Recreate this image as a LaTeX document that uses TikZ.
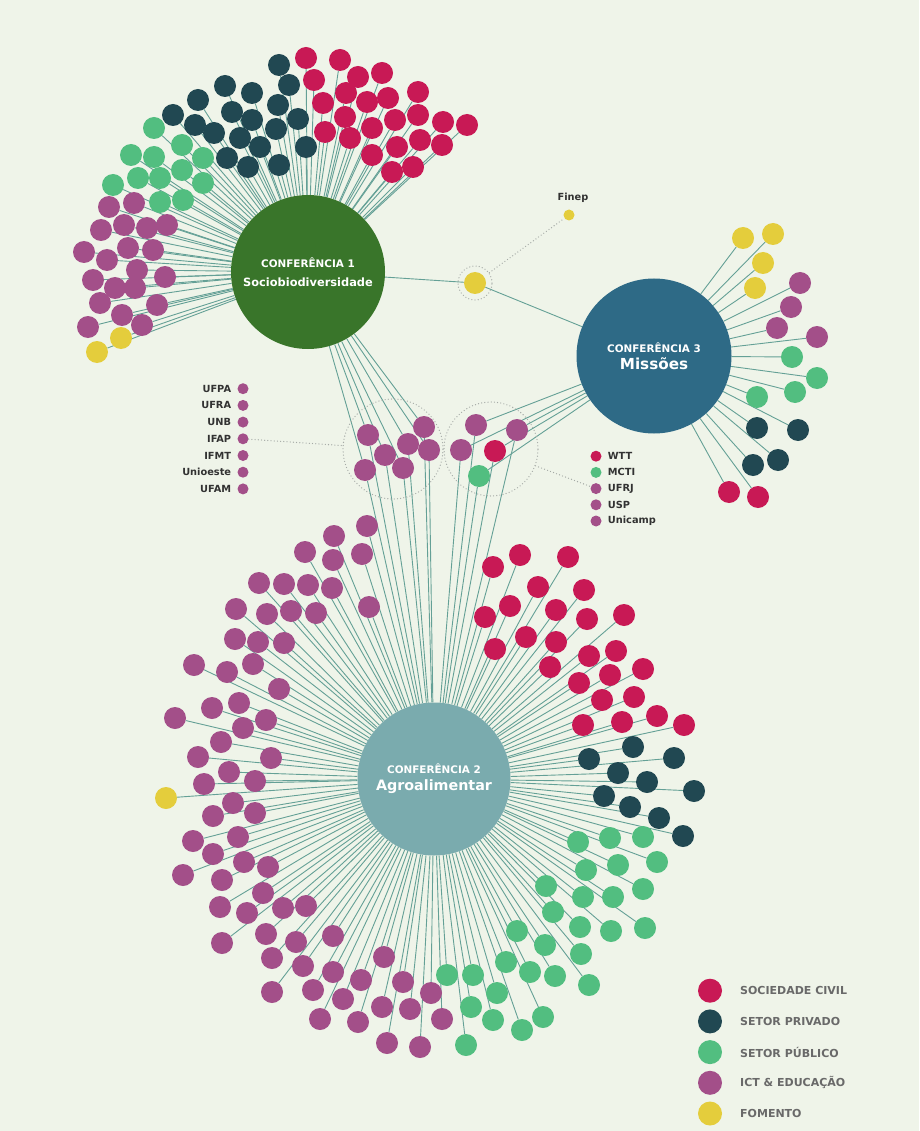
\documentclass[tikz,border=0pt]{standalone}
\usepackage{fontspec}
\setmainfont{DejaVu Sans}
\usetikzlibrary{backgrounds,positioning}
\definecolor{bgcol}{RGB}{239,244,233}
\definecolor{socc}{RGB}{200,25,85}
\definecolor{privc}{RGB}{33,72,82}
\definecolor{pubc}{RGB}{82,190,128}
\definecolor{ictc}{RGB}{163,79,137}
\definecolor{fomc}{RGB}{228,205,60}
\definecolor{hubAc}{RGB}{57,117,42}
\definecolor{hubBc}{RGB}{122,171,174}
\definecolor{hubCc}{RGB}{46,106,134}
\definecolor{linec}{RGB}{100,160,150}
\definecolor{ringc}{RGB}{165,170,165}
\definecolor{txtc}{RGB}{50,50,50}
\definecolor{legc}{RGB}{105,105,105}

\begin{document}
\begin{tikzpicture}[
x=1pt, y=-1pt,
dot/.style={circle,inner sep=0pt,minimum size=22pt},
soc/.style={dot,fill=socc},
priv/.style={dot,fill=privc},
pub/.style={dot,fill=pubc},
ict/.style={dot,fill=ictc},
fom/.style={dot,fill=fomc},
mini/.style={circle,inner sep=0pt,minimum size=11pt},
link/.style={draw=linec,line width=0.9pt},
hub/.style={circle,inner sep=0pt,text=white,font=\bfseries,align=center},
ring/.style={circle,draw=ringc,line width=1.3pt,dash pattern=on 0pt off 3.2pt,line cap=round,inner sep=0pt},
dotline/.style={draw=ringc,line width=1.3pt,dash pattern=on 0pt off 3.2pt,line cap=round},
small/.style={font=\bfseries\fontsize{9.8}{12}\selectfont,text=txtc,inner sep=0pt},
legend/.style={font=\bfseries\fontsize{11}{13}\selectfont,text=legc,inner sep=0pt,anchor=west}
]
    % page
    \useasboundingbox (0,0) rectangle (919,1131);
    \begin{scope}[on background layer]
      \fill[bgcol] (0,0) rectangle (919,1131);
    \end{scope}

    % hubs
    \node[hub,fill=hubAc,minimum size=154pt] (hubA) at (308,272)
      {{\fontsize{10.4}{11}\selectfont CONFERÊNCIA 1}\\[7pt]{\fontsize{11.4}{13}\selectfont Sociobiodiversidade}};
    \node[hub,fill=hubBc,minimum size=153pt] (hubB) at (434,779)
      {{\fontsize{10.4}{11}\selectfont CONFERÊNCIA 2}\\[5pt]{\fontsize{14.3}{16}\selectfont Agroalimentar}};
    \node[hub,fill=hubCc,minimum size=155pt] (hubC) at (654,356)
      {{\fontsize{10.4}{11}\selectfont CONFERÊNCIA 3}\\[5pt]{\fontsize{15.2}{17}\selectfont Missões}};

    % fomento hub + Finep
    \node[fom] (fhub) at (475,283) {};
    \node[ring,minimum size=34pt] (fring) at (475,283) {};
    \node[mini,minimum size=11pt,fill=fomc] (finep) at (569,215) {};
    \node[small,above=7pt of finep,xshift=4pt] (finepl) {Finep};
    \begin{scope}[on background layer]
      \draw[link] (hubA) -- (fhub) -- (hubC);
    \end{scope}
    \draw[dotline] (fring) -- (finep);

    % Conferencia 1
    \foreach \px/\py [count=\i] in {306/58,340/60,314/80,358/77,382/73,346/93,323/103,367/102,388/98,418/92,
      345/117,395/120,418/115,443/122,467/125,325/132,372/128,350/138,397/147,420/140,442/145,372/155,392/172,413/167}
      {\node[soc] (as\i) at (\px,\py) {};
       \begin{scope}[on background layer]\draw[link] (as\i) -- (hubA);\end{scope}}
    \foreach \px/\py [count=\i] in {279/65,289/85,225/86,252/93,198/100,278/105,232/112,173/115,252/120,298/119,
      195/125,214/133,240/138,276/129,260/147,306/147,227/158,248/167,279/165}
      {\node[priv] (ap\i) at (\px,\py) {};
       \begin{scope}[on background layer]\draw[link] (ap\i) -- (hubA);\end{scope}}
    \foreach \px/\py [count=\i] in {154/128,182/145,131/155,154/157,203/158,182/170,113/185,138/178,160/178,203/183,160/202,183/200}
      {\node[pub] (au\i) at (\px,\py) {};
       \begin{scope}[on background layer]\draw[link] (au\i) -- (hubA);\end{scope}}
    \foreach \px/\py [count=\i] in {109/207,134/203,101/230,124/225,147/228,167/225,84/252,128/248,153/250,107/260,
      137/270,165/277,93/280,115/288,135/288,100/303,157/305,122/315,142/325,88/327}
      {\node[ict] (ai\i) at (\px,\py) {};
       \begin{scope}[on background layer]\draw[link] (ai\i) -- (hubA);\end{scope}}
    \foreach \px/\py [count=\i] in {121/338,97/352}
      {\node[fom] (af\i) at (\px,\py) {};
       \begin{scope}[on background layer]\draw[link] (af\i) -- (hubA);\end{scope}}

    % Conferencia 3
    \foreach \px/\py [count=\i] in {743/238,773/234,763/263,755/288}
      {\node[fom] (cf\i) at (\px,\py) {};
       \begin{scope}[on background layer]\draw[link] (cf\i) -- (hubC);\end{scope}}
    \foreach \px/\py [count=\i] in {800/283,791/307,777/328,817/337}
      {\node[ict] (ci\i) at (\px,\py) {};
       \begin{scope}[on background layer]\draw[link] (ci\i) -- (hubC);\end{scope}}
    \foreach \px/\py [count=\i] in {792/357,817/378,795/392,757/397}
      {\node[pub] (cu\i) at (\px,\py) {};
       \begin{scope}[on background layer]\draw[link] (cu\i) -- (hubC);\end{scope}}
    \foreach \px/\py [count=\i] in {757/428,798/430,778/460,753/465}
      {\node[priv] (cp\i) at (\px,\py) {};
       \begin{scope}[on background layer]\draw[link] (cp\i) -- (hubC);\end{scope}}
    \foreach \px/\py [count=\i] in {729/492,758/497}
      {\node[soc] (cs\i) at (\px,\py) {};
       \begin{scope}[on background layer]\draw[link] (cs\i) -- (hubC);\end{scope}}

    % shared 1-2
    \node[ring,minimum size=100pt] (ringL) at (393,449) {};
    \foreach \px/\py [count=\i] in {368/435,385/455,365/470,408/444,424/427,429/450,403/468}
      {\node[ict] (k\i) at (\px,\py) {};
       \begin{scope}[on background layer]\draw[link] (hubA) -- (k\i) -- (hubB);\end{scope}}
    \foreach \lab [count=\i] in {UFPA,UFRA,UNB,IFAP,IFMT,Unioeste,UFAM}
      {\node[mini,fill=ictc] (l\i) at (243,372+16.7*\i) {};
       \node[small,left=6pt of l\i] (lt\i) {\lab};}
    \draw[dotline] (l4) -- (ringL);

    % shared 3-2
    \node[ring,minimum size=94pt] (ringR) at (491,449) {};
    \foreach \px/\py/\sty [count=\i] in {476/425/ict,461/450/ict,495/451/soc,517/430/ict,479/476/pub}
      {\node[\sty] (m\i) at (\px,\py) {};
       \begin{scope}[on background layer]\draw[link] (hubC) -- (m\i) -- (hubB);\end{scope}}
    \foreach \lab/\col [count=\i] in {WTT/socc,MCTI/pubc,UFRJ/ictc,USP/ictc,Unicamp/ictc}
      {\node[mini,fill=\col] (r\i) at (596,440+16.2*\i) {};
       \node[small,right=6pt of r\i] (rt\i) {\lab};}
    \draw[dotline] (ringR) -- (r3);

    % Conferencia 2
    \foreach \px/\py [count=\i] in {493/567,520/555,568/557,538/587,584/590,485/617,510/606,556/610,587/619,624/615,
      495/649,526/637,556/642,550/667,589/656,616/651,643/669,579/683,610/675,634/697,602/700,583/725,622/722,657/716,684/725}
      {\node[soc] (bs\i) at (\px,\py) {};
       \begin{scope}[on background layer]\draw[link] (bs\i) -- (hubB);\end{scope}}
    \foreach \px/\py [count=\i] in {633/747,589/759,674/758,618/773,647/782,694/791,604/796,630/807,659/818,683/836}
      {\node[priv] (bp\i) at (\px,\py) {};
       \begin{scope}[on background layer]\draw[link] (bp\i) -- (hubB);\end{scope}}
    \foreach \px/\py [count=\i] in {578/842,610/838,643/837,657/862,586/870,618/865,643/889,546/886,583/897,613/897,
      553/912,580/927,611/931,645/928,517/931,545/945,581/954,506/962,530/972,555/976,589/985,
      447/975,473/975,497/993,471/1007,493/1020,522/1030,543/1017,466/1045}
      {\node[pub] (bu\i) at (\px,\py) {};
       \begin{scope}[on background layer]\draw[link] (bu\i) -- (hubB);\end{scope}}
    \foreach \px/\py [count=\i] in {367/526,334/536,305/552,333/560,362/554,259/583,284/584,308/585,332/588,369/607,
      236/609,267/614,291/611,316/613,235/639,258/642,284/643,194/665,227/672,253/664,
      279/689,212/708,239/703,266/720,175/718,243/728,221/742,198/757,229/772,271/758,
      204/784,255/781,233/803,213/816,255/813,193/841,238/837,213/854,183/875,244/862,
      268/867,222/880,263/893,220/907,247/913,283/908,306/906,222/943,266/934,296/942,
      333/936,272/958,303/966,384/957,333/972,361/980,403/982,431/993,272/992,313/990,
      343/999,382/1007,410/1009,442/1019,320/1019,358/1022,387/1043,420/1047}
      {\node[ict] (bi\i) at (\px,\py) {};
       \begin{scope}[on background layer]\draw[link] (bi\i) -- (hubB);\end{scope}}
    \node[fom] (bf1) at (166,798) {};
    \begin{scope}[on background layer]\draw[link] (bf1) -- (hubB);\end{scope}

    % legend
    \foreach \lab/\col [count=\i] in {SOCIEDADE CIVIL/socc,SETOR PRIVADO/privc,SETOR PÚBLICO/pubc,ICT \& EDUCAÇÃO/ictc,FOMENTO/fomc}
      {\node[dot,minimum size=24pt,fill=\col] (g\i) at (710,960+30.7*\i) {};
       \node[legend] (gt\i) at (740,960+30.7*\i) {\lab};}
\end{tikzpicture}
\end{document}
